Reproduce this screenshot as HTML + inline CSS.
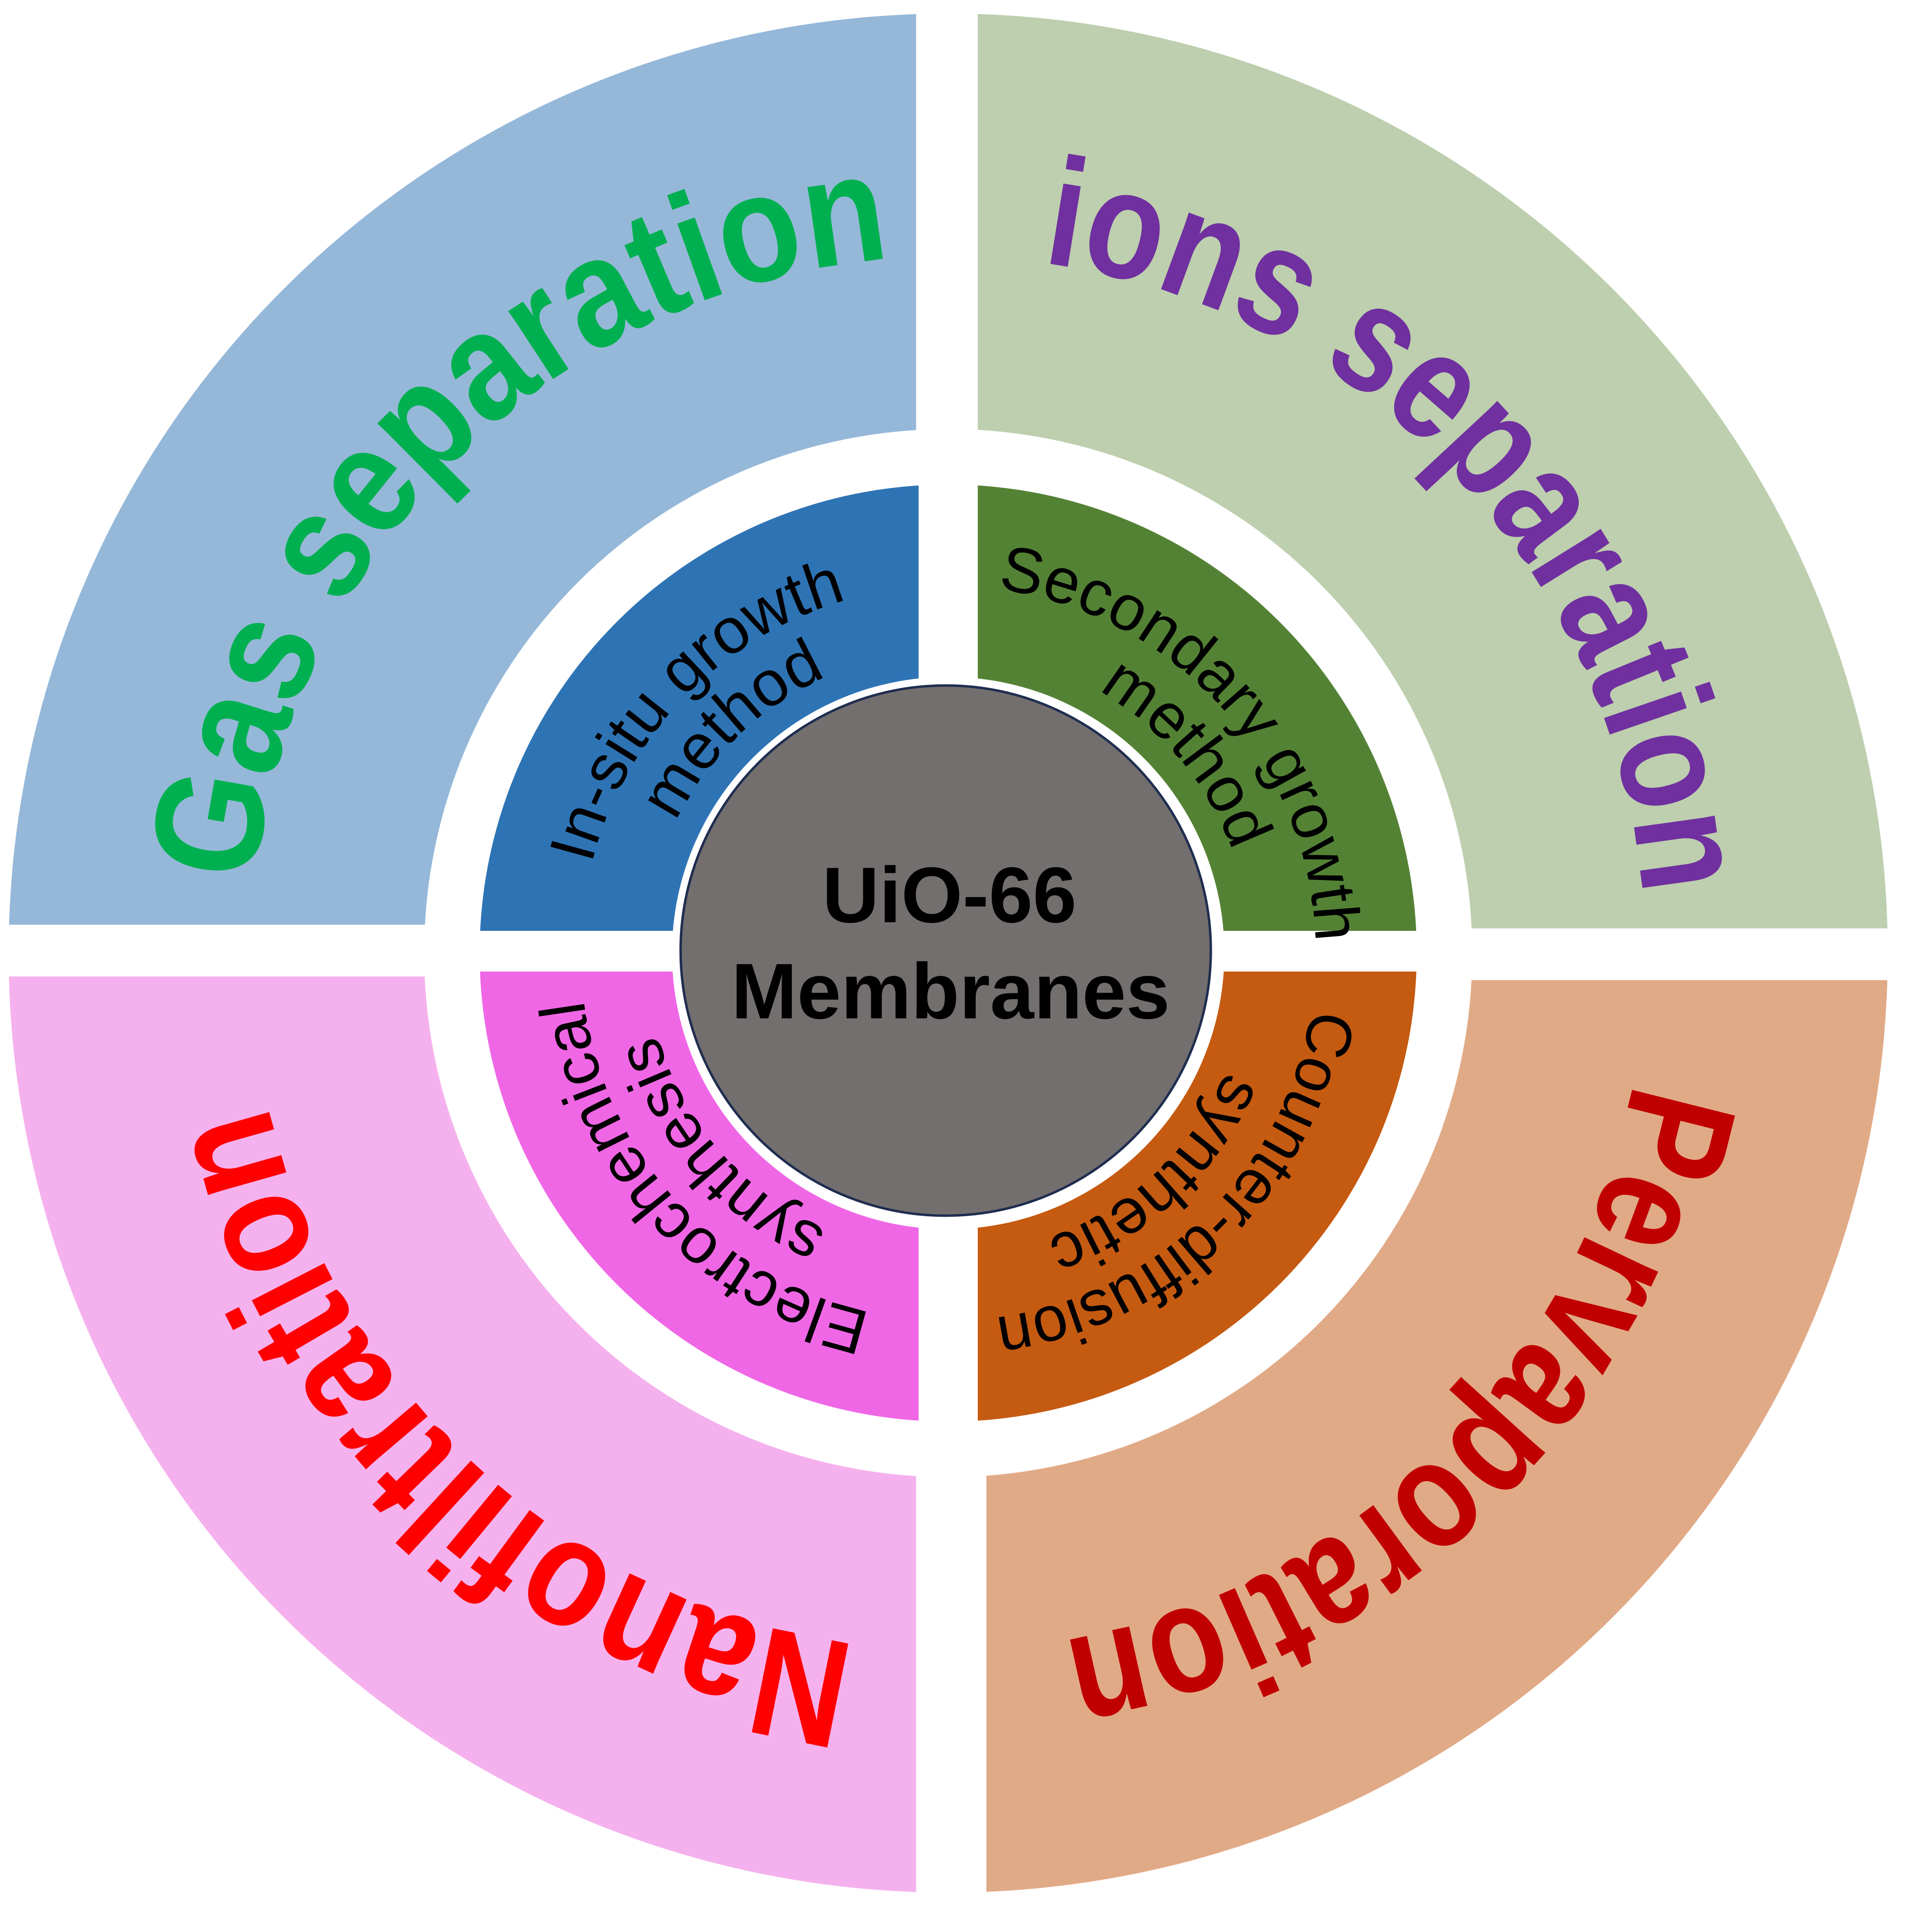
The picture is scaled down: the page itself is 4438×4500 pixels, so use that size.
<!DOCTYPE html>
<html><head><meta charset="utf-8"><style>
html,body{margin:0;padding:0;background:#fff;}
svg{display:block;}
.big{font-family:"Liberation Sans",Arial,sans-serif;font-weight:bold;font-size:125px;}
.mid{font-family:"Liberation Sans",Arial,sans-serif;font-size:52px;fill:#000;}
</style></head><body>
<svg width="4438" height="4500" viewBox="0 0 1545 1567" preserveAspectRatio="none" xmlns="http://www.w3.org/2000/svg">
<defs>
<clipPath id="co"><circle cx="769" cy="773" r="762"/></clipPath>
<clipPath id="cm"><circle cx="769" cy="773" r="380"/></clipPath>
<path id="r565" d="M1334 773 A565 565 0 1 1 204 773 A565 565 0 1 1 1334 773"/>
<path id="r298" d="M1067 773 A298 298 0 1 1 471 773 A298 298 0 1 1 1067 773"/>
<path id="r245" d="M1014 773 A245 245 0 1 1 524 773 A245 245 0 1 1 1014 773"/>
</defs>
<rect width="1545" height="1567" fill="#fff"/>
<g clip-path="url(#co)">
<rect x="0" y="0" width="743" height="750" fill="#95b8d9"/>
<rect x="793" y="0" width="760" height="753" fill="#bdcfae"/>
<rect x="0" y="792" width="743" height="780" fill="#f5b1ee"/>
<rect x="800" y="795" width="760" height="780" fill="#e1aa87"/>
</g>
<circle cx="769" cy="773" r="425" fill="#fff"/>
<g clip-path="url(#cm)">
<rect x="0" y="0" width="745" height="755" fill="#2e74b5"/>
<rect x="793" y="0" width="760" height="755" fill="#548235"/>
<rect x="0" y="788" width="745" height="780" fill="#f067e6"/>
<rect x="793" y="788" width="760" height="780" fill="#c55a11"/>
</g>
<circle cx="769" cy="773" r="224" fill="#fff"/>
<circle cx="767" cy="771" r="215" fill="#736f6e" stroke="#1f2d50" stroke-width="2"/>
<text x="770" y="748" text-anchor="middle" font-family="Liberation Sans, Arial, sans-serif" font-weight="bold" font-size="64">UiO-66</text>
<text x="771" y="826" text-anchor="middle" font-family="Liberation Sans, Arial, sans-serif" font-weight="bold" font-size="64">Membranes</text>

<text class="big" fill="#00b050" transform="rotate(45.5 769 773)"><textPath href="#r565" startOffset="50%" text-anchor="middle" textLength="785" lengthAdjust="spacingAndGlyphs">Gas separation</textPath></text>
<text class="big" fill="#7030a0" transform="rotate(136.5 769 773)"><textPath href="#r565" startOffset="50%" text-anchor="middle" textLength="765" lengthAdjust="spacingAndGlyphs">ions separation</textPath></text>
<text class="big" fill="#c00000" transform="rotate(-134.4 769 773)"><textPath href="#r565" startOffset="50%" text-anchor="middle" textLength="690" lengthAdjust="spacingAndGlyphs">Pervaporation</textPath></text>
<text class="big" fill="#ff0000" transform="rotate(-47.5 769 773)"><textPath href="#r565" startOffset="50%" text-anchor="middle" textLength="690" lengthAdjust="spacingAndGlyphs">Nanofiltration</textPath></text>

<text class="mid" transform="rotate(44 769 773)"><textPath href="#r298" startOffset="50%" text-anchor="middle">In-situ growth</textPath></text>
<text class="mid" transform="rotate(46 769 773)"><textPath href="#r245" startOffset="50%" text-anchor="middle">method</textPath></text>
<text class="mid" transform="rotate(138 769 773)"><textPath href="#r298" startOffset="50%" text-anchor="middle">Secondary growth</textPath></text>
<text class="mid" transform="rotate(140 769 773)"><textPath href="#r245" startOffset="50%" text-anchor="middle">method</textPath></text>
<text class="mid" transform="rotate(-42.6 769 773)"><textPath href="#r298" startOffset="50%" text-anchor="middle">Electrochemical</textPath></text>
<text class="mid" transform="rotate(-41 769 773)"><textPath href="#r245" startOffset="50%" text-anchor="middle">synthesis</textPath></text>
<text class="mid" transform="rotate(-134.3 769 773)"><textPath href="#r298" startOffset="50%" text-anchor="middle" textLength="385" lengthAdjust="spacingAndGlyphs">Counter-diffusion</textPath></text>
<text class="mid" transform="rotate(-133 769 773)"><textPath href="#r245" startOffset="50%" text-anchor="middle">synthetic</textPath></text>
</svg>
</body></html>
